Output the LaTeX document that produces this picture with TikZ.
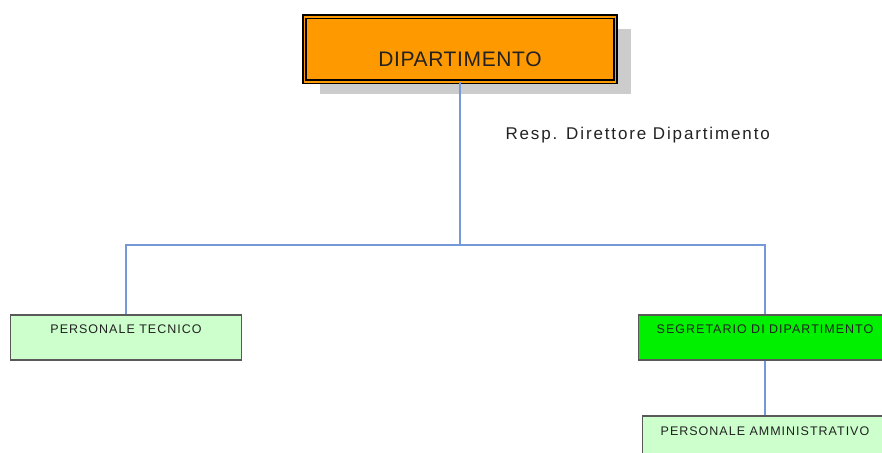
\documentclass[tikz,border=0pt]{standalone}
\usepackage{fontspec}
\setmainfont{Liberation Sans}
\newfontfamily\titlesans[LetterSpace=3]{Liberation Sans}
\newfontfamily\respsans[LetterSpace=11]{Liberation Sans}
\newfontfamily\unitsans[LetterSpace=8]{Liberation Sans}
\usetikzlibrary{shadows}
\definecolor{deptorange}{HTML}{FF9900}
\definecolor{segrgreen}{HTML}{00F000}
\definecolor{palegreen}{HTML}{CCFFCC}
\definecolor{linkblue}{HTML}{7598D6}
\definecolor{textgray}{HTML}{222222}
\begin{document}
\begin{tikzpicture}[x=1pt,y=-1pt,
  deptbox/.style={draw=black, double=deptorange, double distance=1.8pt, line width=1.3pt,
    fill=deptorange, anchor=north, inner xsep=0pt, inner ysep=0pt, minimum width=311pt,
    text height=50pt, text depth=15pt, text=textgray, font={\titlesans\fontsize{21}{25}\selectfont},
    drop shadow={shadow xshift=15pt, shadow yshift=-12pt, fill=black!20, opacity=1}},
  unitbox/.style={draw=black!65, line width=1.8pt, anchor=north, inner xsep=0pt, inner ysep=0pt,
    text height=18.5pt, text depth=26.5pt, text=textgray, font={\unitsans\fontsize{12.5}{15}\selectfont}},
  link/.style={draw=linkblue, line width=1.2pt}]
  \clip (0,0) rectangle (882,452);
  \fill[white] (0,0) rectangle (882,452);
  % top of the chart
  \node[deptbox] (dip) at (460,16) {DIPARTIMENTO};
  \node[anchor=base west, text=textgray, font={\respsans\fontsize{17}{20}\selectfont}] (resp) at (502,139) {Resp. Direttore Dipartimento};
  \coordinate (split) at (460,245);
  % units
  \node[unitbox, fill=palegreen, minimum width=231pt] (tec) at (126,314) {PERSONALE TECNICO};
  \node[unitbox, fill=segrgreen, minimum width=253pt] (seg) at (765,314) {SEGRETARIO DI DIPARTIMENTO};
  \node[unitbox, fill=palegreen, minimum width=245pt, text height=20pt, text depth=40pt] (amm) at (765,415) {PERSONALE AMMINISTRATIVO};
  % connectors
  \draw[link] (dip.south) -- (split) -| (tec.north);
  \draw[link] (split) -| (seg.north);
  \draw[link] (seg.south) -- (amm.north);
\end{tikzpicture}
\end{document}
